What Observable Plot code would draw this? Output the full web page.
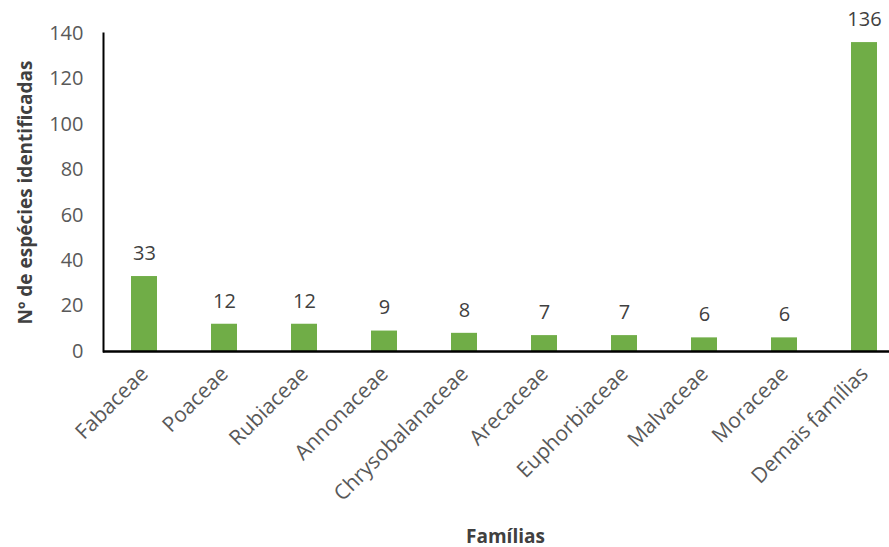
<!DOCTYPE html>
<html><head><meta charset="utf-8">
<script src="https://cdn.jsdelivr.net/npm/d3@7"></script>
<script src="https://cdn.jsdelivr.net/npm/@observablehq/plot@0.6"></script>
<style>
html,body{margin:0;padding:0;background:#fff;}
svg{font-family:"Open Sans",sans-serif;}
</style></head>
<body><div id="chart"></div>
<script>
const families = ["Fabaceae","Poaceae","Rubiaceae","Annonaceae","Chrysobalanaceae","Arecaceae","Euphorbiaceae","Malvaceae","Moraceae","Demais famílias"];
const counts = [33,12,12,9,8,7,7,6,6,136];
const yTicks = [0,20,40,60,80,100,120,140];
const data = families.map((f,i)=>({family:f,count:counts[i]}));

const chart = Plot.plot({
  width: 889, height: 547,
  marginLeft: 103, marginRight: 0, marginTop: 33, marginBottom: 196,
  style: {fontFamily: "'Open Sans', sans-serif", fontSize: "20px", color: "#595959", background: "#fff"},
  x: {domain: families, range: [104, 904], paddingInner: 0.675, paddingOuter: 0.3375, axis: null},
  y: {domain: [0,140], axis: null},
  marks: [
    Plot.barY(data, {x:"family", y:"count", fill:"#70AD47"}),
    Plot.text(data, {x:"family", y:"count", text: d=>String(d.count), dy:-23, fill:"#404040", fontSize:20}),
    Plot.axisY(yTicks, {tickSize:0, tickPadding:20, fontSize:20, fill:"#595959", label:null}),
    Plot.axisX({tickSize:0, tickRotate:-45, tickPadding:19, fontSize:21, fill:"#595959", label:null}),
    Plot.frame({anchor:"left", stroke:"#000", strokeWidth:2}),
    Plot.ruleY([0], {stroke:"#000", strokeWidth:2.5}),
    Plot.text(["Nº de espécies identificadas"], {frameAnchor:"left", dx:-78, rotate:-90, textAnchor:"middle", fontWeight:"bold", fontSize:19, fill:"#404040"}),
    Plot.text(["Famílias"], {frameAnchor:"bottom", dy:191, dx:9, fontWeight:"bold", fontSize:19, fill:"#404040"})
  ]
});
document.getElementById("chart").appendChild(chart);
</script></body></html>
